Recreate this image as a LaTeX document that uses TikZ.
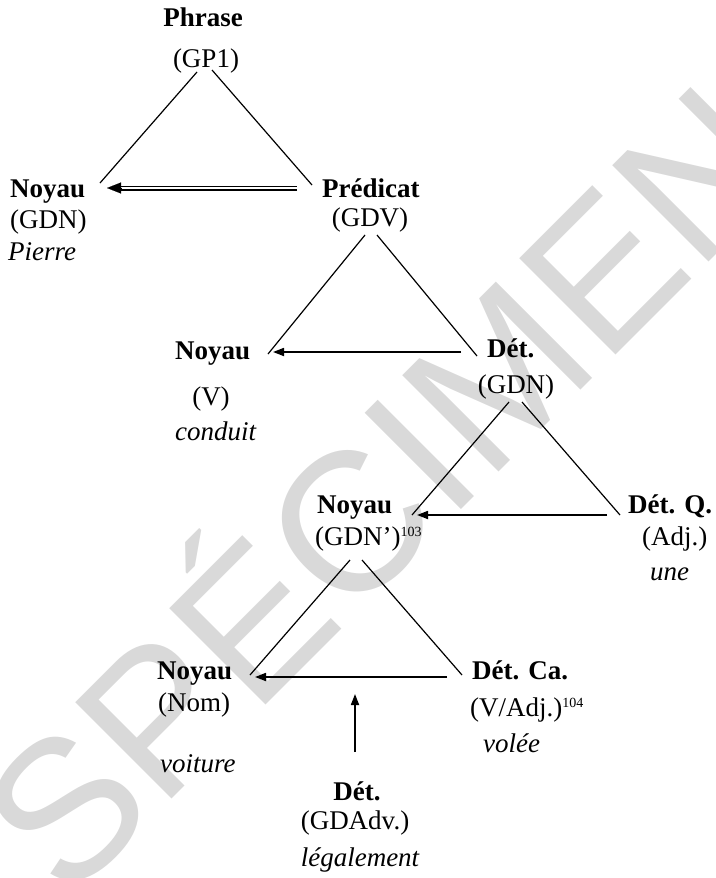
\documentclass[tikz,border=0pt]{standalone}
\usepackage{fontspec}
\setmainfont{Liberation Serif}
\newfontfamily\wmfont{Liberation Sans}
\usetikzlibrary{arrows.meta}
\definecolor{wmgray}{HTML}{D9D9D9}
\newcommand{\expo}[1]{\raisebox{9pt}{\fontsize{14}{14}\selectfont #1}}

\begin{document}
\begin{tikzpicture}[
  x=1pt, y=-1pt,
  word/.style={inner sep=0pt, font=\fontsize{27}{32}\selectfont},
  head/.style={inner sep=0pt, font=\fontsize{27}{32}\selectfont\bfseries},
  gloss/.style={inner sep=0pt, font=\fontsize{27}{32}\selectfont\itshape},
  branch/.style={line width=1.2pt},
  arrow/.style={-{Triangle[length=11pt,width=8pt]}, line width=1.7pt},
  dblarrow/.style={double, double distance=2.6pt, line width=1.2pt},
  watermark/.style={inner sep=0pt, text=wmgray, font=\wmfont\fontsize{198}{198}\selectfont}
]
  \useasboundingbox (0,0) rectangle (715,878);
  \node[watermark, rotate=45] (specimen) at (373,478) {SPÉCIMEN};

  \node[head, anchor=base] (phrase) at (203,27) {Phrase};
  \node[word, anchor=base] (gp1) at (206,67) {(GP1)};

  \node[head, anchor=base west] (noyau1) at (10,197) {Noyau};
  \node[word, anchor=base west] (gdn1) at (10,228) {(GDN)};
  \node[gloss, anchor=base west] (pierre) at (8,260) {Pierre};

  \node[head, anchor=base west] (predicat) at (322,197) {Prédicat};
  \node[word, anchor=base] (gdv) at (370,226) {(GDV)};

  \node[head, anchor=base west] (noyau2) at (175,359) {Noyau};
  \node[word, anchor=base] (v) at (211,405) {(V)};
  \node[gloss, anchor=base west] (conduit) at (175,440) {conduit};

  \node[head, anchor=base west] (det1) at (487,357) {Dét.};
  \node[word, anchor=base] (gdn2) at (516,393) {(GDN)};

  \node[head, anchor=base west] (noyau3) at (317,513) {Noyau};
  \node[word, anchor=base west] (gdnp) at (315,545) {(GDN’)\expo{103}};

  \node[head, anchor=base west] (detq) at (628,513) {Dét. Q.};
  \node[word, anchor=base west] (adj) at (642,545) {(Adj.)};
  \node[gloss, anchor=base west] (une) at (650,580) {une};

  \node[head, anchor=base west] (noyau4) at (157,679) {Noyau};
  \node[word, anchor=base west] (nom) at (158,711) {(Nom)};
  \node[gloss, anchor=base west] (voiture) at (160,772) {voiture};

  \node[head, anchor=base west] (detca) at (472,679) {Dét. Ca.};
  \node[word, anchor=base west] (vadj) at (470,716) {(V/Adj.)\expo{104}};
  \node[gloss, anchor=base west] (volee) at (483,752) {volée};

  \node[head, anchor=base] (det3) at (357,800) {Dét.};
  \node[word, anchor=base] (gdadv) at (355,829) {(GDAdv.)};
  \node[gloss, anchor=base] (legal) at (360,866) {légalement};

  \draw[branch] ([shift={(-9,5)}]gp1.base) -- ([shift={(90,-14)}]noyau1.base west);
  \draw[branch] ([shift={(6,3)}]gp1.base) -- ([shift={(-10,-12)}]predicat.base west);
  \draw[dblarrow] ([shift={(-25,-9)}]predicat.base west) -- ([shift={(108,-9)}]noyau1.base west);
  \draw[-{Triangle[length=14pt,width=11pt]}, line width=0.1pt] ([shift={(111,-9)}]noyau1.base west) -- ([shift={(97,-9)}]noyau1.base west);

  \draw[branch] ([shift={(-5,9)}]gdv.base) -- ([shift={(93,-5)}]noyau2.base west);
  \draw[branch] ([shift={(7,9)}]gdv.base) -- ([shift={(-10,-1)}]det1.base west);
  \draw[arrow] ([shift={(-26,-5)}]det1.base west) -- ([shift={(98,-7)}]noyau2.base west);

  \draw[branch] ([shift={(-7,9)}]gdn2.base) -- ([shift={(95,2)}]noyau3.base west);
  \draw[branch] ([shift={(6,9)}]gdn2.base) -- ([shift={(-8,2)}]detq.base west);
  \draw[arrow] ([shift={(-21,2)}]detq.base west) -- ([shift={(100,2)}]noyau3.base west);

  \draw[branch] ([shift={(35,15)}]gdnp.base west) -- ([shift={(93,-4)}]noyau4.base west);
  \draw[branch] ([shift={(47,15)}]gdnp.base west) -- ([shift={(-10,-4)}]detca.base west);
  \draw[arrow] ([shift={(-25,-2)}]detca.base west) -- ([shift={(98,-2)}]noyau4.base west);
  \draw[arrow] ([shift={(-2,-48)}]det3.base) -- ++(0,-58);
\end{tikzpicture}
\end{document}
